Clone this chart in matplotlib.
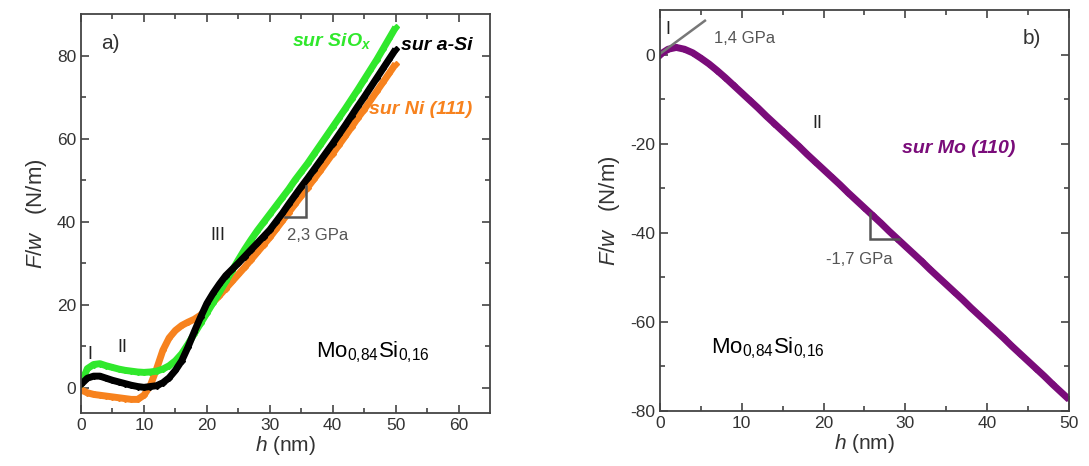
import matplotlib
matplotlib.use("Agg")
import matplotlib.pyplot as plt

plt.rcParams['font.family'] = ['Liberation Sans', 'DejaVu Sans']
plt.rcParams['axes.unicode_minus'] = False
plt.rcParams['mathtext.fontset'] = 'custom'
plt.rcParams['mathtext.rm'] = 'Liberation Sans'
plt.rcParams['mathtext.it'] = 'Liberation Sans:italic'
plt.rcParams['mathtext.bf'] = 'Liberation Sans:bold:italic'

# ---- data panel a) ----
h_a = list(range(0, 51))
fw_asi = [0.8, 2.3, 2.8, 2.8, 2.3, 1.8, 1.4, 1.0, 0.6, 0.3, 0.1, 0.3, 0.5, 1.2, 2.4, 4.2, 6.5, 9.8, 13.5, 17.0,
          20.3, 22.8, 25.0, 27.0, 28.5, 30.0, 31.6, 33.2, 34.8, 36.4, 38.0, 40.0, 42.0, 44.2, 46.3, 48.4, 50.4,
          52.5, 54.6, 56.7, 58.8, 61.0, 63.2, 65.5, 67.8, 70.0, 72.3, 74.6, 76.9, 79.2, 81.5]
fw_siox = [1.0, 4.6, 5.6, 5.8, 5.3, 4.9, 4.5, 4.2, 4.0, 3.8, 3.7, 3.8, 4.0, 4.5, 5.3, 6.5, 8.2, 10.5, 13.0, 15.5,
           18.0, 20.5, 23.0, 25.6, 28.2, 30.8, 33.3, 35.6, 37.8, 39.8, 41.8, 43.8, 45.8, 47.8, 50.0, 52.0, 54.0,
           56.2, 58.4, 60.6, 62.8, 65.0, 67.2, 69.5, 71.8, 74.2, 76.6, 79.0, 81.6, 84.2, 86.8]
fw_ni = [-0.5, -1.2, -1.6, -1.8, -2.0, -2.2, -2.4, -2.6, -2.8, -2.8, -1.8, 0.5, 4.5, 9.0, 12.0, 13.8, 15.0, 15.8,
         16.5, 17.5, 19.0, 20.6, 22.2, 23.9, 25.6, 27.3, 29.0, 30.8, 32.6, 34.4, 36.2, 38.2, 40.2, 42.2, 44.2,
         46.2, 48.2, 50.2, 52.2, 54.3, 56.4, 58.5, 60.6, 62.8, 65.0, 67.0, 69.2, 71.4, 73.6, 75.8, 78.0]

# ---- data panel b) ----
h_b = list(range(0, 51))
fw_mo = [0.0, 1.2, 1.6, 1.2, 0.4, -0.8, -2.1, -3.6, -5.2, -6.9, -8.6, -10.3, -12.0, -13.8, -15.5, -17.2, -18.9,
         -20.6, -22.4, -24.1, -25.8, -27.5, -29.2, -31.0, -32.7, -34.4, -36.1, -37.8, -39.6, -41.3, -43.0, -44.7,
         -46.4, -48.2, -49.9, -51.6, -53.3, -55.0, -56.8, -58.5, -60.2, -61.9, -63.6, -65.4, -67.1, -68.8, -70.5,
         -72.2, -74.0, -75.7, -77.4]

GREEN = '#30e82c'
ORANGE = '#f7821e'
BLACK = '#000000'
PURPLE = '#7a0c7a'
GRAY = '#555555'
AXC = '#444444'

fig = plt.figure(figsize=(10.89, 4.66), dpi=100)
axa = fig.add_axes([0.0744, 0.1144, 0.3756, 0.8556])
axb = fig.add_axes([0.606, 0.118, 0.3756, 0.8605])


def style(ax):
    for s in ax.spines.values():
        s.set_color(AXC)
        s.set_linewidth(1.3)
    ax.tick_params(which='both', direction='in', top=True, right=True, colors=AXC,
                   labelcolor='#333333', labelsize=12.5, width=1.2)
    ax.tick_params(which='major', length=6)
    ax.tick_params(which='minor', length=3.5)
    ax.set_xlabel(r'$h$ (nm)', fontsize=15, color='#333333', labelpad=1)
    ax.set_ylabel(r'$F/w$   (N/m)', fontsize=16, color='#333333', labelpad=6)


def series(ax, x, y, c):
    ax.plot(x, y, color=c, lw=5.0, marker='D', ms=3.0, mec=c, mfc=c,
            solid_joinstyle='round', solid_capstyle='butt')


# panel a
series(axa, h_a, fw_ni, ORANGE)
series(axa, h_a, fw_siox, GREEN)
series(axa, h_a, fw_asi, BLACK)
axa.set_xlim(0, 65)
axa.set_ylim(-6, 90)
axa.set_xticks([0, 10, 20, 30, 40, 50, 60])
axa.set_xticks(list(range(5, 65, 10)), minor=True)
axa.set_yticks([0, 20, 40, 60, 80])
axa.set_yticks([10, 30, 50, 70], minor=True)
style(axa)

ti = dict(fontsize=14, fontweight='bold', style='italic')
axa.text(3.2, 83, 'a)', fontsize=15, color='#333333', va='center')
axa.text(33.6, 83.5, r'sur SiO$\mathbf{_x}$', color=GREEN, va='center', **ti)
axa.text(50.8, 82.5, 'sur a-Si', color=BLACK, va='center', **ti)
axa.text(45.8, 67, 'sur Ni (111)', color=ORANGE, va='center', **ti)
axa.text(21.8, 36.6, 'III', fontsize=13, color='#222222', ha='center', va='center')
axa.text(1.4, 8.0, 'I', fontsize=13, color='#222222', ha='center', va='center')
axa.text(6.6, 9.7, 'II', fontsize=13, color='#222222', ha='center', va='center')
axa.plot([35.8, 35.8, 32.4], [48.7, 41.1, 41.1], color=GRAY, lw=1.8, solid_joinstyle='miter')
axa.text(32.8, 36.6, '2,3 GPa', fontsize=12, color=GRAY, va='center')
axa.text(37.3, 8.5, r'Mo$_{0{,}84}$Si$_{0{,}16}$', fontsize=16, color='black', va='center')

# panel b
series(axb, h_b, fw_mo, PURPLE)
axb.set_xlim(0, 50)
axb.set_ylim(-80, 10)
axb.set_xticks([0, 10, 20, 30, 40, 50])
axb.set_xticks(list(range(5, 50, 10)), minor=True)
axb.set_yticks([0, -20, -40, -60, -80])
axb.set_yticks([-10, -30, -50, -70], minor=True)
style(axb)
axb.plot([0, 5.5], [0.15, 7.6], color='#777777', lw=1.8)
axb.text(1.0, 5.6, 'I', fontsize=13, color='#222222', ha='center', va='center')
axb.text(6.6, 3.5, '1,4 GPa', fontsize=12, color=GRAY, va='center')
axb.text(44.3, 3.5, 'b)', fontsize=15, color='#333333', va='center')
axb.text(19.2, -15.5, 'II', fontsize=13, color='#222222', ha='center', va='center')
axb.text(29.6, -21, 'sur Mo (110)', color=PURPLE, va='center', **ti)
axb.plot([25.7, 25.7, 29.2], [-35.5, -41.5, -41.5], color=GRAY, lw=1.8, solid_joinstyle='miter')
axb.text(20.3, -46, '-1,7 GPa', fontsize=12, color=GRAY, va='center')
axb.text(6.3, -65.9, r'Mo$_{0{,}84}$Si$_{0{,}16}$', fontsize=16, color='black', va='center')

fig.savefig('out.png', dpi=100)
